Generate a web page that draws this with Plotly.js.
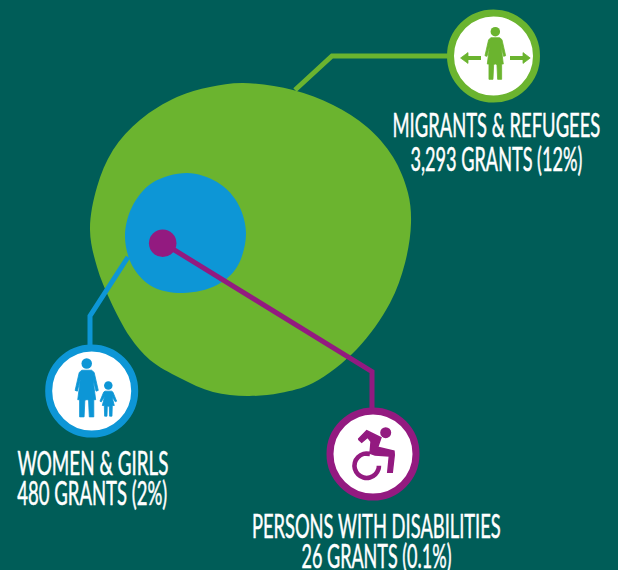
<!DOCTYPE html>
<html><head><meta charset="utf-8">
<script src="https://cdn.plot.ly/plotly-3.0.1.min.js"></script>
<style>html,body{margin:0;padding:0;background:#005d58}</style></head>
<body><div id="chart" style="width:618px;height:570px"></div>
<script>
const BG='#005d58', GREEN='#6bb42f', BLUE='#0d96d6', PURPLE='#931a80';
const labelText=['MIGRANTS & REFUGEES','3,293 GRANTS (12%)','WOMEN & GIRLS','480 GRANTS (2%)','PERSONS WITH DISABILITIES','26 GRANTS (0.1%)'];
const labelX=[496,496,92.5,92,376.5,376.7];
const labelY=[124.2,158.5,462.5,492.5,525,555.5];
const labelWidth=[208,172,151,150,249,150];
const greenX=[243,293,333,367,393,408,411,405,390,357,313,280,247,213,180,150,130,110,97,90,97,113,140,177,210];
const greenY=[83,90,105,127,157,193,223,263,303,349,383,393,396,392,378,360,337,300,267,230,187,150,120,97,87];
const blueX=[187,217,237,246,237,217,183,153,133,125,132,152];
const blueY=[173,182,202,233,267,285,293,287,267,237,207,183];
const migrantLineX=[295,332,450], migrantLineY=[90,56,56];
const womenLineX=[128,90,90], womenLineY=[257,316,350];
const disabilityLineX=[163,372,372], disabilityLineY=[243,371.7,412];
const dotX=[162.7], dotY=[243.3];
const badgeX=[493.5,91.7,373], badgeY=[56,391,454];
const womanX=[-13,13,20,31,25,17,24,19,19,7,5,2,-2,-5,-7,-19,-19,-24,-17,-25,-31,-20];
const womanY=[18,18,24,72,74,42,97,97,143,143,100,97,97,100,143,143,97,97,42,74,72,24];
const childX=[-10,10,14,25,21,11,18,12,11,4,3,-3,-4,-11,-12,-18,-11,-21,-25,-14];
const childY=[17,17,20,47,49,33,60,60,92,92,62,62,92,92,60,60,33,49,47,20];
const riderX=[358.3,366.7,381,377.7,394,394.3,392.3,387.7,389.3,375,370,371,367.7,361.7];
const riderY=[439.3,430.7,437.7,447.3,451,455,472.3,472.3,456,455,453.3,441.7,437.3,442.3];
const wheelX=[369.9,363.5,358.1,354.9,354.9,358.1,363.5,369.9,375.3,378.5,378.9];
const wheelY=[453.9,453.9,457.1,462.5,468.9,474.3,477.5,477.5,474.3,468.9,465.7];

function base(){return {type:'scatter',hoverinfo:'skip',showlegend:false};}
function blob(x,y,c){return Object.assign(base(),{x:x.concat(x[0]),y:y.concat(y[0]),mode:'lines',fill:'toself',fillcolor:c,line:{color:c,shape:'spline',smoothing:1,width:0}});}
function path(x,y,c,w,shape){return Object.assign(base(),{x,y,mode:'lines',line:{color:c,width:w,shape:shape||'linear'}});}
function poly(x,y,c,w){return Object.assign(base(),{x:x.concat(x[0]),y:y.concat(y[0]),mode:'lines',fill:'toself',fillcolor:c,line:{color:c,width:w===undefined?0.8:w}});}
function dot(x,y,size,fill,lc,lw){return Object.assign(base(),{x,y,mode:'markers',marker:{size,color:fill,line:{color:lc||fill,width:lw||0}}});}
function place(xs,ys,hx,hy,s,c){return poly(xs.map(v=>hx+v*s/3),ys.map(v=>hy+v*s/3),c);}

const traces=[
 blob(greenX,greenY,GREEN),
 path(migrantLineX,migrantLineY,GREEN,5),
 blob(blueX,blueY,BLUE),
 path(womenLineX,womenLineY,BLUE,5),
 path(disabilityLineX,disabilityLineY,PURPLE,5),
 dot(dotX,dotY,27.5,PURPLE),
 dot([badgeX[0]],[badgeY[0]],86,'#ffffff',GREEN,7),
 dot([badgeX[1]],[badgeY[1]],86,'#ffffff',BLUE,7),
 dot([badgeX[2]],[badgeY[2]],86,'#ffffff',PURPLE,7),
 dot([495.3],[31.7],9.5,GREEN),
 place(womanX,womanY,495.3,31.7,1,GREEN),
 path([466,481],[58,58],GREEN,4),
 poly([460.6,468,468],[58,52.6,63.4],GREEN),
 path([510,525],[58,58],GREEN,4),
 poly([530.2,523,523],[58,52.6,63.4],GREEN),
 dot([86.7],[363.5],10.5,BLUE),
 place(womanX,womanY,86.7,363.5,1.12,BLUE),
 dot([108.3],[385.5],8.5,BLUE),
 place(childX,childY,108.3,385.5,1,BLUE),
 dot([385.7],[432.7],11,PURPLE),
 path(wheelX,wheelY,PURPLE,4.6,'spline'),
 poly(riderX,riderY,PURPLE,1.4)
];
const annotations=labelText.map((t,i)=>({
 x:labelX[i],y:labelY[i],xref:'x',yref:'y',text:t,showarrow:false,xanchor:'center',yanchor:'middle',
 font:{family:'Lato,"Liberation Sans",sans-serif',size:32,color:'#ffffff'}}));
Plotly.newPlot('chart',traces,{
 width:618,height:570,margin:{l:0,r:0,t:0,b:0},paper_bgcolor:BG,plot_bgcolor:BG,hovermode:false,showlegend:false,
 xaxis:{range:[0,618],visible:false,fixedrange:true},
 yaxis:{range:[570,0],visible:false,fixedrange:true},
 annotations
},{staticPlot:true,displayModeBar:false}).then(gd=>{
 gd.querySelectorAll('.annotation-text-g').forEach((g,i)=>{
  const text=g.querySelector('.annotation-text');
  const sx=labelWidth[i]/text.getComputedTextLength();
  const cx=labelX[i];
  g.setAttribute('transform','matrix('+sx+',0,0,1,'+(cx*(1-sx))+',0)');
  text.style.stroke='#ffffff';
  text.style.strokeWidth='0.5px';
 });
});
</script></body></html>
